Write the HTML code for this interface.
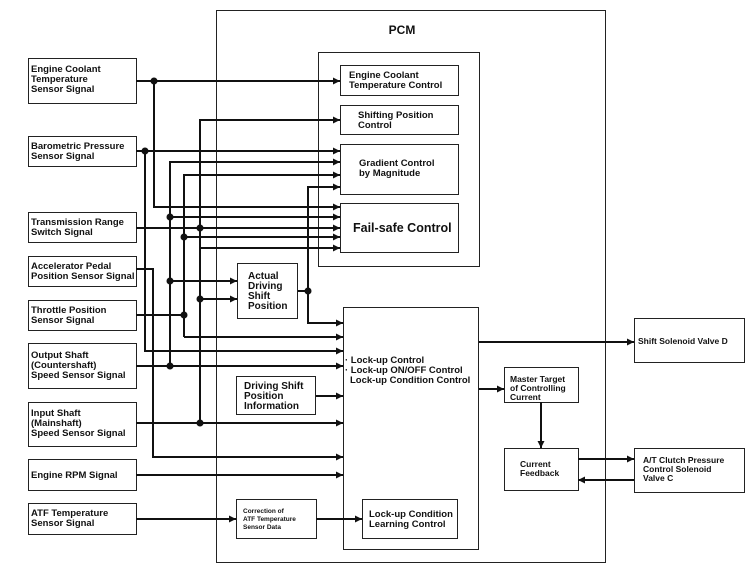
<!DOCTYPE html>
<html><head><meta charset="utf-8"><style>
body{margin:0;background:#fff}
svg{display:block}
text{font-family:"Liberation Sans",Arial,sans-serif;font-weight:bold;fill:#111;font-size:9.5px}
</style></head><body>
<svg width="755" height="573" viewBox="0 0 755 573" xmlns="http://www.w3.org/2000/svg">
<defs>
<marker id="a" viewBox="0 0 10 10" refX="10" refY="5" markerWidth="11" markerHeight="7" markerUnits="userSpaceOnUse" orient="auto"><path d="M0,0L10,5L0,10z" fill="#111"/></marker>
</defs>
<g fill="none" stroke="#222" stroke-width="1">
<rect x="216.5" y="10.5" width="389" height="552"/>
<rect x="318.5" y="52.5" width="161" height="214"/>
<rect x="340.5" y="65.5" width="118" height="30"/>
<rect x="340.5" y="105.5" width="118" height="29"/>
<rect x="340.5" y="144.5" width="118" height="50"/>
<rect x="340.5" y="203.5" width="118" height="49"/>
<rect x="28.5" y="58.5" width="108" height="45"/>
<rect x="28.5" y="136.5" width="108" height="30"/>
<rect x="28.5" y="212.5" width="108" height="30"/>
<rect x="28.5" y="256.5" width="108" height="30"/>
<rect x="28.5" y="300.5" width="108" height="30"/>
<rect x="28.5" y="343.5" width="108" height="45"/>
<rect x="28.5" y="402.5" width="108" height="44"/>
<rect x="28.5" y="459.5" width="108" height="31"/>
<rect x="28.5" y="503.5" width="108" height="31"/>
<rect x="237.5" y="263.5" width="60" height="55"/>
<rect x="343.5" y="307.5" width="135" height="242"/>
<rect x="236.5" y="376.5" width="79" height="38"/>
<rect x="236.5" y="499.5" width="80" height="39"/>
<rect x="362.5" y="499.5" width="95" height="39"/>
<rect x="504.5" y="367.5" width="74" height="35"/>
<rect x="504.5" y="448.5" width="74" height="42"/>
<rect x="634.5" y="318.5" width="110" height="44"/>
<rect x="634.5" y="448.5" width="110" height="44"/>
</g>
<g fill="none" stroke="#111" stroke-width="2" marker-end="url(#a)">
<path d="M136 81H340"/>
<path d="M154 81V207H340"/>
<path d="M200 299V120H340"/>
<path d="M136 151H340"/>
<path d="M170 366V162H340"/>
<path d="M184 337V175H340"/>
<path d="M308 291V187H340"/>
<path d="M170 217H340"/>
<path d="M136 228H340"/>
<path d="M184 237H340"/>
<path d="M200 248H340"/>
<path d="M170 281H237"/>
<path d="M200 299H237"/>
<path d="M298 291H308V323H343"/>
<path d="M184 337H343"/>
<path d="M145 151V351H343"/>
<path d="M136 269H153V457H343"/>
<path d="M136 366H343"/>
<path d="M136 423H343"/>
<path d="M136 475H343"/>
<path d="M316 396H343"/>
<path d="M136 519H236"/>
<path d="M316 519H362"/>
<path d="M479 342H634"/>
<path d="M479 389H504"/>
<path d="M541 402V448"/>
<path d="M578 459H634"/>
<path d="M634 480H578"/>
</g>
<g fill="none" stroke="#111" stroke-width="2">
<path d="M200 299V423"/>
<path d="M136 315H184"/>
</g>
<g fill="#111">
<circle cx="154" cy="81" r="3.5"/>
<circle cx="145" cy="151" r="3.5"/>
<circle cx="170" cy="217" r="3.5"/>
<circle cx="200" cy="228" r="3.5"/>
<circle cx="184" cy="237" r="3.5"/>
<circle cx="170" cy="281" r="3.5"/>
<circle cx="200" cy="299" r="3.5"/>
<circle cx="308" cy="291" r="3.5"/>
<circle cx="184" cy="315" r="3.5"/>
<circle cx="170" cy="366" r="3.5"/>
<circle cx="200" cy="423" r="3.5"/>
</g>
<text x="402" y="34" text-anchor="middle" style="font-size:12px">PCM</text>
<text x="349" y="78">Engine Coolant</text>
<text x="349" y="88">Temperature Control</text>
<text x="358" y="118">Shifting Position</text>
<text x="358" y="128">Control</text>
<text x="359" y="166">Gradient Control</text>
<text x="359" y="176">by Magnitude</text>
<text x="353" y="232" style="font-size:12.5px">Fail-safe Control</text>
<text x="31" y="72">Engine Coolant</text>
<text x="31" y="82">Temperature</text>
<text x="31" y="92">Sensor Signal</text>
<text x="31" y="149">Barometric Pressure</text>
<text x="31" y="159">Sensor Signal</text>
<text x="31" y="225">Transmission Range</text>
<text x="31" y="235">Switch Signal</text>
<text x="31" y="269">Accelerator Pedal</text>
<text x="31" y="279">Position Sensor Signal</text>
<text x="31" y="313">Throttle Position</text>
<text x="31" y="323">Sensor Signal</text>
<text x="31" y="358">Output Shaft</text>
<text x="31" y="368">(Countershaft)</text>
<text x="31" y="378">Speed Sensor Signal</text>
<text x="31" y="416">Input Shaft</text>
<text x="31" y="426">(Mainshaft)</text>
<text x="31" y="436">Speed Sensor Signal</text>
<text x="31" y="478">Engine RPM Signal</text>
<text x="31" y="516">ATF Temperature</text>
<text x="31" y="526">Sensor Signal</text>
<text x="248" y="279" style="font-size:10px">Actual</text>
<text x="248" y="289" style="font-size:10px">Driving</text>
<text x="248" y="299" style="font-size:10px">Shift</text>
<text x="248" y="309" style="font-size:10px">Position</text>
<text x="244" y="389" style="font-size:10px">Driving Shift</text>
<text x="244" y="399" style="font-size:10px">Position</text>
<text x="244" y="409" style="font-size:10px">Information</text>
<text x="243" y="513" style="font-size:6.5px">Correction of</text>
<text x="243" y="521" style="font-size:6.5px">ATF Temperature</text>
<text x="243" y="529" style="font-size:6.5px">Sensor Data</text>
<text x="369" y="517">Lock-up Condition</text>
<text x="369" y="527">Learning Control</text>
<text x="345" y="363">· Lock-up Control</text>
<text x="345" y="373">· Lock-up ON/OFF Control</text>
<text x="350" y="383">Lock-up Condition Control</text>
<text x="510" y="382" style="font-size:8.5px">Master Target</text>
<text x="510" y="391" style="font-size:8.5px">of Controlling</text>
<text x="510" y="400" style="font-size:8.5px">Current</text>
<text x="520" y="467" style="font-size:8.5px">Current</text>
<text x="520" y="476" style="font-size:8.5px">Feedback</text>
<text x="638" y="344" style="font-size:8.5px">Shift Solenoid Valve D</text>
<text x="643" y="463" style="font-size:8.5px">A/T Clutch Pressure</text>
<text x="643" y="472" style="font-size:8.5px">Control Solenoid</text>
<text x="643" y="481" style="font-size:8.5px">Valve C</text>
</svg>
</body></html>
